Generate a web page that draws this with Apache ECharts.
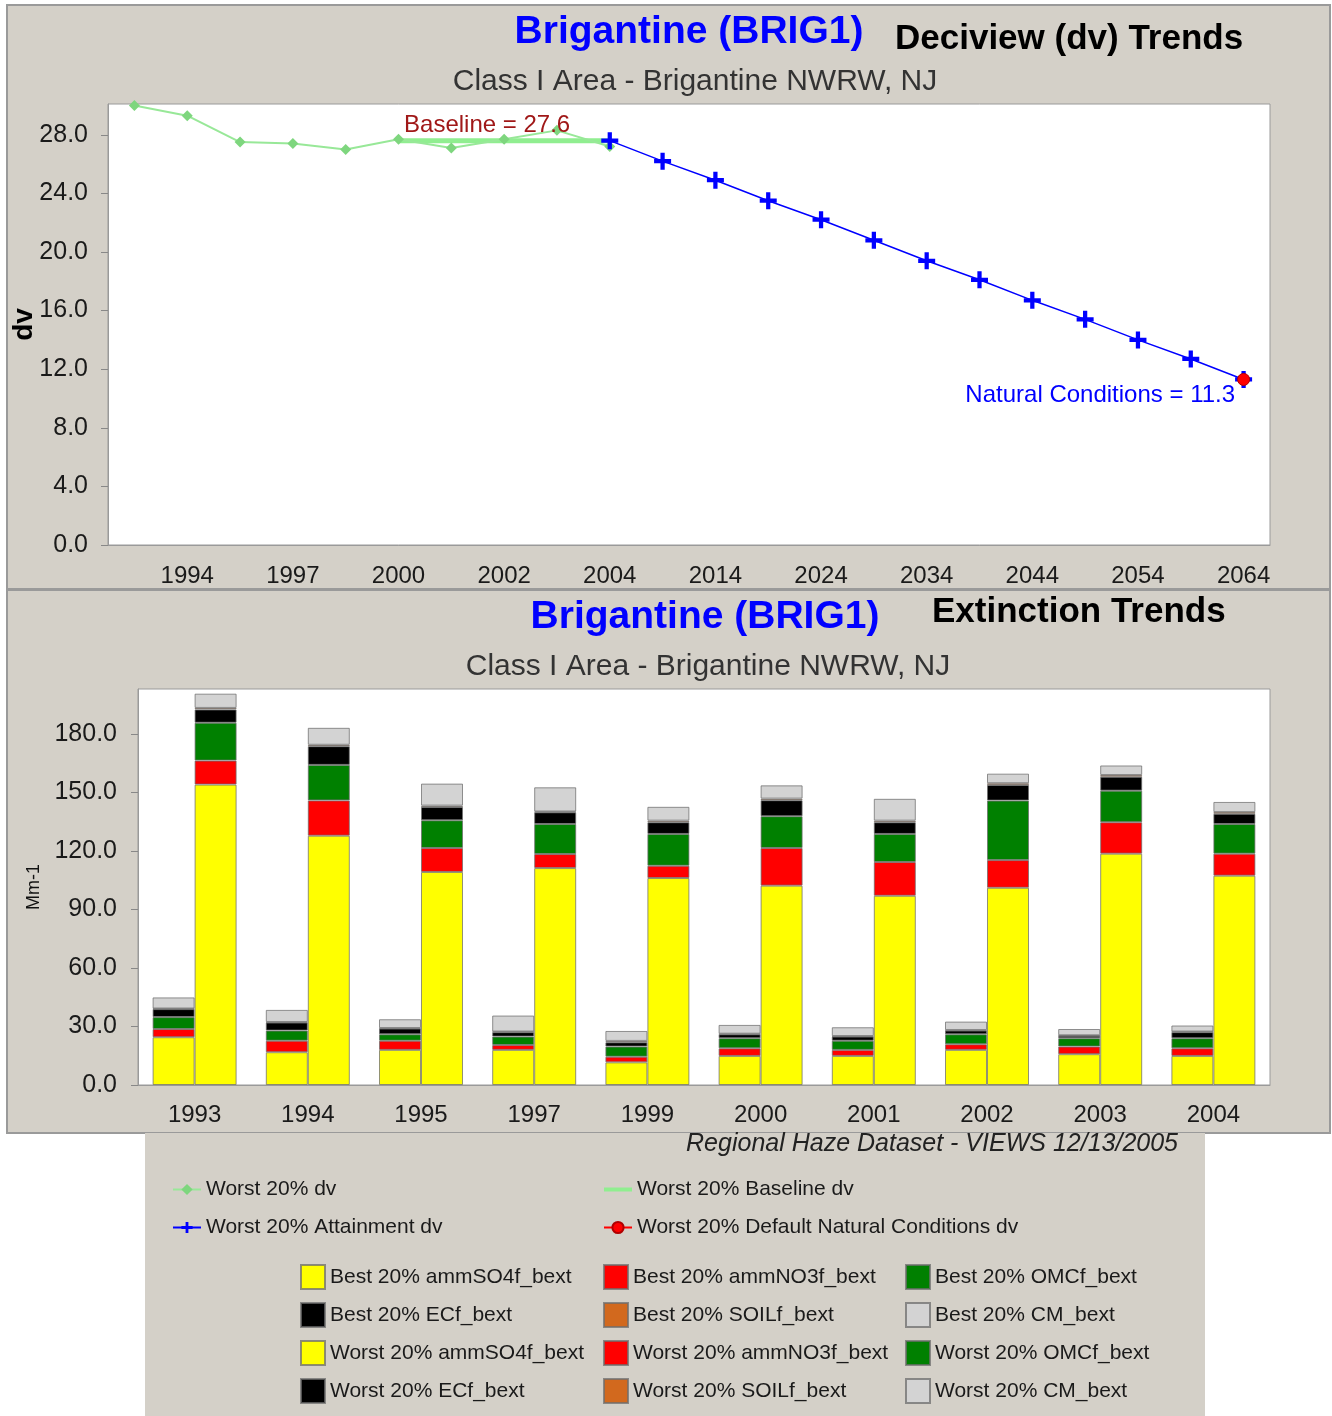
<!DOCTYPE html>
<html>
<head>
<meta charset="utf-8">
<script src="https://cdn.jsdelivr.net/npm/echarts@6/dist/echarts.min.js"></script>
<style>
html,body{margin:0;padding:0;background:#ffffff;}
#chart{width:1332px;height:1416px;}
</style>
</head>
<body>
<div id="chart"></div>
<script>
// ---------- Top chart data (Deciview trends) ----------
const dvCategories = ['1993','1994','1995','1997','1999','2000','2001','2002','2003','2004','2009','2014','2019','2024','2029','2034','2039','2044','2049','2054','2059','2064'];
const worstDvYears = ['1993','1994','1995','1997','1999','2000','2001','2002','2003','2004'];
const worstDvValues = [30.0, 29.3, 27.5, 27.4, 27.0, 27.7, 27.1, 27.7, 28.3, 27.2];
const baselineYears = ['2000','2001','2002','2003','2004'];
const baselineValue = 27.6;
const attainmentYears = ['2004','2009','2014','2019','2024','2029','2034','2039','2044','2049','2054','2059','2064'];
const attainmentValues = [27.6, 26.2, 24.9, 23.5, 22.2, 20.8, 19.4, 18.1, 16.7, 15.4, 14.0, 12.7, 11.3];
const naturalYear = '2064';
const naturalValue = 11.3;
const dvTickLabels = ['1994','1997','2000','2002','2004','2014','2024','2034','2044','2054','2064'];

// ---------- Bottom chart data (Extinction trends, Mm-1) ----------
const extYears = ['1993','1994','1995','1997','1999','2000','2001','2002','2003','2004'];
const bestSO4  = [24.5, 16.8, 18.0, 18.0, 11.6, 14.9, 14.9, 18.0, 15.8, 14.9];
const bestNO3  = [4.2, 5.9, 4.7, 2.5, 2.9, 3.9, 3.1, 2.9, 3.9, 3.9];
const bestOMC  = [6.1, 5.2, 3.3, 4.3, 5.2, 5.2, 4.7, 5.1, 4.3, 5.2];
const bestEC   = [4.1, 4.1, 2.9, 2.3, 2.2, 2.0, 2.1, 1.9, 1.2, 3.1];
const bestSOIL = [0.3, 0.3, 0.3, 0.3, 0.7, 0.3, 0.3, 0.3, 0.3, 0.3];
const bestCM   = [5.7, 6.2, 4.5, 8.2, 5.1, 4.5, 4.5, 4.3, 3.2, 3.1];
const worstSO4  = [154.0, 127.8, 109.2, 111.2, 106.1, 102.2, 97.0, 101.1, 118.6, 107.3];
const worstNO3  = [12.3, 18.1, 12.3, 7.2, 6.3, 19.3, 17.3, 14.2, 16.1, 11.3];
const worstOMC  = [19.4, 18.2, 14.2, 15.4, 16.3, 16.3, 14.4, 30.5, 16.2, 15.2];
const worstEC   = [6.8, 9.6, 6.8, 6.0, 6.0, 8.2, 6.0, 8.0, 7.1, 5.2];
const worstSOIL = [0.8, 0.7, 0.7, 0.4, 0.8, 0.8, 0.8, 0.9, 0.9, 0.9];
const worstCM   = [7.3, 8.7, 11.3, 12.4, 7.1, 6.8, 11.2, 4.9, 4.9, 5.2];

// ---------- helpers ----------
function align(years, values) {
  return dvCategories.map(c => { const i = years.indexOf(c); return i >= 0 ? values[i] : null; });
}
const FONT = 'Liberation Sans';
const PANEL = '#d4d0c8';
const TXT = '#1a1a1a';
const colors = { SO4: '#ffff00', NO3: '#ff0000', OMC: '#008000', EC: '#000000', SOIL: '#d2691e', CM: '#d3d3d3' };
const crossPath = 'path://M3,0H5V3H8V5H5V8H3V5H0V3H3Z';

const bestSeries = [
  ['Best 20% ammSO4f_bext', bestSO4, colors.SO4],
  ['Best 20% ammNO3f_bext', bestNO3, colors.NO3],
  ['Best 20% OMCf_bext', bestOMC, colors.OMC],
  ['Best 20% ECf_bext', bestEC, colors.EC],
  ['Best 20% SOILf_bext', bestSOIL, colors.SOIL],
  ['Best 20% CM_bext', bestCM, colors.CM]
];
const worstSeries = [
  ['Worst 20% ammSO4f_bext', worstSO4, colors.SO4],
  ['Worst 20% ammNO3f_bext', worstNO3, colors.NO3],
  ['Worst 20% OMCf_bext', worstOMC, colors.OMC],
  ['Worst 20% ECf_bext', worstEC, colors.EC],
  ['Worst 20% SOILf_bext', worstSOIL, colors.SOIL],
  ['Worst 20% CM_bext', worstCM, colors.CM]
];
function barSeries(def, stack) {
  return {
    name: def[0], type: 'bar', stack: stack, xAxisIndex: 1, yAxisIndex: 1,
    data: def[1], barWidth: 42, barGap: '0%',
    itemStyle: { color: def[2], borderColor: 'rgba(110,110,110,0.75)', borderWidth: 1 },
    emphasis: { disabled: true }
  };
}

const chart = echarts.init(document.getElementById('chart'), null, { renderer: 'canvas' });

const legendText = { fontFamily: FONT, fontSize: 21, color: TXT };
function boxLegend(left, names) {
  return {
    orient: 'vertical', left: left, top: 1264, padding: 0,
    itemWidth: 24, itemHeight: 24, itemGap: 12, icon: 'rect',
    selectedMode: false, textStyle: legendText, data: names
  };
}

const option = {
  backgroundColor: '#ffffff',
  animation: false,
  graphic: [
    { type: 'rect', z: -10, shape: { x: 7, y: 5, width: 1323, height: 584 }, style: { fill: PANEL, stroke: '#9a9a9a', lineWidth: 2 } },
    { type: 'rect', z: -10, shape: { x: 7, y: 590, width: 1323, height: 543 }, style: { fill: PANEL, stroke: '#9a9a9a', lineWidth: 2 } },
    { type: 'rect', z: -10, shape: { x: 145, y: 1133, width: 1060, height: 283 }, style: { fill: PANEL } }
  ],
  title: [
    { text: 'Brigantine (BRIG1)', left: 689, top: 13, textAlign: 'center', padding: 0,
      textStyle: { fontFamily: FONT, fontSize: 39, fontWeight: 'bold', color: '#0000ff' } },
    { text: 'Deciview (dv) Trends', left: 895, top: 22, padding: 0,
      textStyle: { fontFamily: FONT, fontSize: 35, fontWeight: 'bold', color: '#000000' } },
    { text: 'Class I Area - Brigantine NWRW, NJ', left: 695, top: 67, textAlign: 'center', padding: 0,
      textStyle: { fontFamily: FONT, fontSize: 30, fontWeight: 'normal', color: '#333333' } },
    { text: 'Brigantine (BRIG1)', left: 705, top: 598, textAlign: 'center', padding: 0,
      textStyle: { fontFamily: FONT, fontSize: 39, fontWeight: 'bold', color: '#0000ff' } },
    { text: 'Extinction Trends', left: 932, top: 595, padding: 0,
      textStyle: { fontFamily: FONT, fontSize: 35, fontWeight: 'bold', color: '#000000' } },
    { text: 'Class I Area - Brigantine NWRW, NJ', left: 708, top: 652, textAlign: 'center', padding: 0,
      textStyle: { fontFamily: FONT, fontSize: 30, fontWeight: 'normal', color: '#333333' } },
    { text: 'Regional Haze Dataset - VIEWS 12/13/2005', right: 154, top: 1132, padding: 0,
      textStyle: { fontFamily: FONT, fontSize: 25, fontWeight: 'normal', fontStyle: 'italic', color: '#222222' } }
  ],
  legend: [
    { orient: 'vertical', left: 172, top: 1179, padding: 0, itemWidth: 28, itemHeight: 14, itemGap: 17,
      selectedMode: false, textStyle: legendText, data: ['Worst 20% dv', 'Worst 20% Attainment dv'] },
    { orient: 'vertical', left: 603, top: 1179, padding: 0, itemWidth: 28, itemHeight: 14, itemGap: 17,
      selectedMode: false, textStyle: legendText,
      data: [{ name: 'Worst 20% Baseline dv', icon: 'path://M0,0H28V4H0Z' }, 'Worst 20% Default Natural Conditions dv'] },
    boxLegend(300, ['Best 20% ammSO4f_bext', 'Best 20% ECf_bext', 'Worst 20% ammSO4f_bext', 'Worst 20% ECf_bext']),
    boxLegend(603, ['Best 20% ammNO3f_bext', 'Best 20% SOILf_bext', 'Worst 20% ammNO3f_bext', 'Worst 20% SOILf_bext']),
    boxLegend(905, ['Best 20% OMCf_bext', 'Best 20% CM_bext', 'Worst 20% OMCf_bext', 'Worst 20% CM_bext'])
  ],
  grid: [
    { left: 108, top: 104, width: 1162, height: 441, show: true, backgroundColor: '#ffffff', borderColor: '#9a9a9a', borderWidth: 1, outerBoundsMode: 'none' },
    { left: 138, top: 689, width: 1132, height: 396, show: true, backgroundColor: '#ffffff', borderColor: '#9a9a9a', borderWidth: 1, outerBoundsMode: 'none' }
  ],
  xAxis: [
    { type: 'category', gridIndex: 0, data: dvCategories, boundaryGap: true,
      axisLine: { lineStyle: { color: '#9a9a9a', width: 1 } },
      axisTick: { alignWithLabel: true, length: 7, interval: (i, v) => dvTickLabels.indexOf(v) >= 0, lineStyle: { color: '#888888' } },
      axisLabel: { interval: (i, v) => dvTickLabels.indexOf(v) >= 0, fontFamily: FONT, fontSize: 24, color: TXT, margin: 19 },
      splitLine: { show: false } },
    { type: 'category', gridIndex: 1, data: extYears, boundaryGap: true,
      axisLine: { lineStyle: { color: '#9a9a9a', width: 1 } },
      axisTick: { alignWithLabel: true, length: 7, lineStyle: { color: '#888888' } },
      axisLabel: { fontFamily: FONT, fontSize: 24, color: TXT, margin: 18 },
      splitLine: { show: false } }
  ],
  yAxis: [
    { type: 'value', gridIndex: 0, min: 0, max: 30.1, interval: 4,
      name: 'dv', nameLocation: 'middle', nameRotate: 90, nameGap: 70, nameMoveOverlap: false,
      nameTextStyle: { fontFamily: FONT, fontSize: 28, fontWeight: 'bold', color: '#000000' },
      axisLine: { show: true, lineStyle: { color: '#9a9a9a' } },
      axisTick: { show: true, length: 7, lineStyle: { color: '#888888' } },
      axisLabel: { showMaxLabel: false, formatter: v => v.toFixed(1), fontFamily: FONT, fontSize: 25, color: TXT, margin: 20 },
      splitLine: { show: false } },
    { type: 'value', gridIndex: 1, min: 0, max: 203, interval: 30,
      name: 'Mm-1', nameLocation: 'middle', nameRotate: 90, nameGap: 95,
      nameTextStyle: { fontFamily: FONT, fontSize: 18, color: '#111111' },
      axisLine: { show: true, lineStyle: { color: '#9a9a9a' } },
      axisTick: { show: true, length: 7, lineStyle: { color: '#888888' } },
      axisLabel: { showMaxLabel: false, formatter: v => v.toFixed(1), fontFamily: FONT, fontSize: 25, color: TXT, margin: 21 },
      splitLine: { show: false } }
  ],
  series: [
    { name: 'Worst 20% Baseline dv', type: 'line', xAxisIndex: 0, yAxisIndex: 0,
      data: align(baselineYears, baselineYears.map(() => baselineValue)),
      symbol: 'none', lineStyle: { color: '#90ee90', width: 5 }, itemStyle: { color: '#90ee90' },
      emphasis: { disabled: true }, z: 2,
      markPoint: {
        symbol: 'rect', symbolSize: 1, itemStyle: { color: 'rgba(0,0,0,0)' },
        label: { show: true, formatter: 'Baseline = ' + baselineValue.toFixed(1), color: '#a01818',
                 fontFamily: FONT, fontSize: 24, offset: [-17, -15] },
        data: [{ coord: ['2002', baselineValue] }]
      } },
    { name: 'Worst 20% dv', type: 'line', xAxisIndex: 0, yAxisIndex: 0,
      data: align(worstDvYears, worstDvValues),
      symbol: 'diamond', symbolSize: 11, showAllSymbol: true,
      lineStyle: { color: '#98e898', width: 2 }, itemStyle: { color: '#7ed67e' },
      emphasis: { disabled: true }, z: 3 },
    { name: 'Worst 20% Attainment dv', type: 'line', xAxisIndex: 0, yAxisIndex: 0,
      data: align(attainmentYears, attainmentValues),
      symbol: crossPath, symbolSize: 17, showAllSymbol: true,
      lineStyle: { color: '#0000ff', width: 1.5 }, itemStyle: { color: '#0000ff' },
      emphasis: { disabled: true }, z: 4 },
    { name: 'Worst 20% Default Natural Conditions dv', type: 'line', xAxisIndex: 0, yAxisIndex: 0,
      data: align([naturalYear], [naturalValue]),
      symbol: 'circle', symbolSize: 12, showAllSymbol: true,
      lineStyle: { color: '#ff0000', width: 1.5 }, itemStyle: { color: '#ff0000', borderColor: '#b00000', borderWidth: 1 },
      label: { show: true, position: 'left', distance: 2, offset: [0, 16],
               formatter: 'Natural Conditions = ' + naturalValue.toFixed(1),
               color: '#0000ff', fontFamily: FONT, fontSize: 24 },
      emphasis: { disabled: true }, z: 5 },
    ...bestSeries.map(d => barSeries(d, 'best')),
    ...worstSeries.map(d => barSeries(d, 'worst'))
  ]
};
chart.setOption(option);
</script>
</body>
</html>
